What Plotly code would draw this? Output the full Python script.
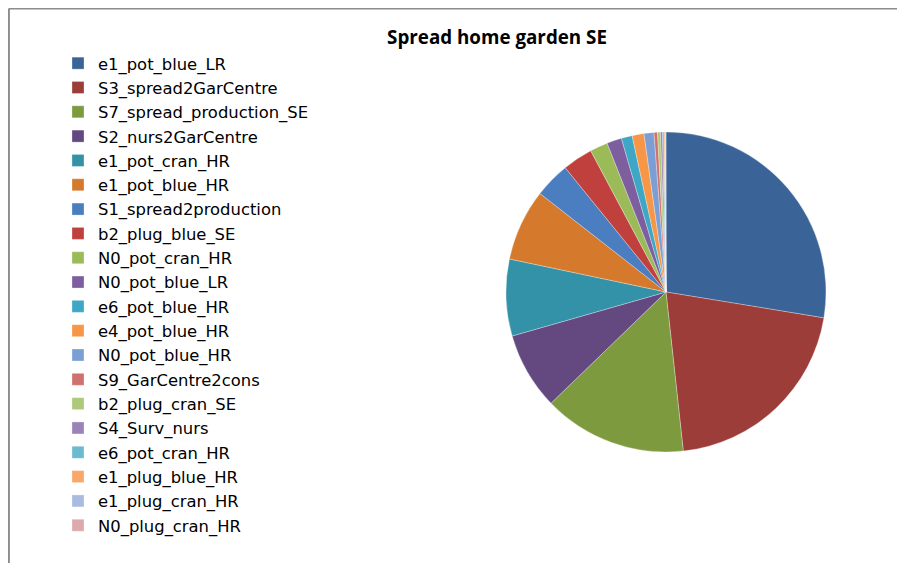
import plotly.graph_objects as go

# Slices in legend order (clockwise from 12 o'clock)
labels = [
    "e1_pot_blue_LR", "S3_spread2GarCentre", "S7_spread_production_SE",
    "S2_nurs2GarCentre", "e1_pot_cran_HR", "e1_pot_blue_HR",
    "S1_spread2production", "b2_plug_blue_SE", "N0_pot_cran_HR",
    "N0_pot_blue_LR", "e6_pot_blue_HR", "e4_pot_blue_HR", "N0_pot_blue_HR",
    "S9_GarCentre2cons", "b2_plug_cran_SE", "S4_Surv_nurs", "e6_pot_cran_HR",
    "e1_plug_blue_HR", "e1_plug_cran_HR", "N0_plug_cran_HR",
]
values = [27.6, 20.7, 14.5, 7.8, 7.75, 7.25, 3.6, 3.05, 1.8, 1.5,
          1.1, 1.2, 1.0, 0.35, 0.3, 0.2, 0.15, 0.1, 0.05, 0.05]

colors = [
    "#3a6498", "#9c3d3a", "#7e9a3f", "#63497f", "#3391a8", "#d57a2c",
    "#4a7ec0", "#c0403d", "#9bbb59", "#7d5fa0", "#3fa7c6", "#f79646",
    "#7b9fd5", "#ce7270", "#afc97a", "#9a83b8", "#6bbad0", "#f9a86a",
    "#aabbe0", "#dda9ae",
]

# la page a une marge de 8 px : on travaille en coordonnées écran - 8
OFF = 8
W, H = 905 - OFF, 563 - OFF


def px(x):
    return (x - OFF) / W


def py(y):
    return 1 - (y - OFF) / H


fig = go.Figure()

fig.add_trace(go.Pie(
    labels=labels, values=values,
    sort=False, direction="clockwise", rotation=0,
    marker=dict(colors=colors, line=dict(color="white", width=0.3)),
    textinfo="none", hoverinfo="label+percent",
    domain=dict(x=[px(506), px(826)], y=[py(452), py(132)]),
))

# cadre gris (haut et gauche)
fig.add_shape(type="line", xref="paper", yref="paper",
              x0=0.001, x1=1, y0=0.999, y1=0.999,
              line=dict(color="#8c8c8c", width=2))
fig.add_shape(type="line", xref="paper", yref="paper",
              x0=0.001, x1=0.001, y0=0, y1=0.999,
              line=dict(color="#8c8c8c", width=2))

fig.update_layout(
    title=dict(text="<b>Spread home garden SE</b>", x=px(497), xanchor="center",
               y=py(37), yanchor="middle",
               font=dict(family="Open Sans", size=18.8, color="black")),
    legend=dict(x=px(58), y=py(46), xanchor="left", yanchor="top",
                font=dict(family="DejaVu Sans", size=16.4, color="black"),
                traceorder="normal"),
    margin=dict(l=0, r=0, t=0, b=0),
    width=W, height=H,
    paper_bgcolor="white",
    plot_bgcolor="white",
)

fig.write_html("out.html")
